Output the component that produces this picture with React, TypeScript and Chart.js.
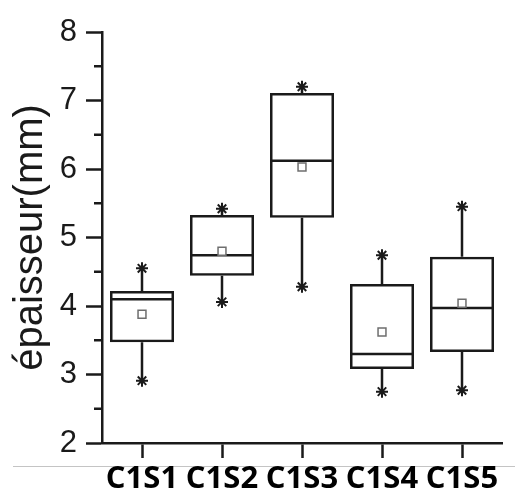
import React, { useEffect, useRef } from 'react';
import { Chart, registerables } from 'chart.js';

Chart.register(...registerables);

const categories = ['C1S1', 'C1S2', 'C1S3', 'C1S4', 'C1S5'];
const q1Values = [3.47, 4.44, 5.29, 3.08, 3.33];
const q3Values = [4.22, 5.33, 7.11, 4.32, 4.72];
const medianValues = [4.1, 4.74, 6.12, 3.3, 3.97];
const meanValues = [3.88, 4.8, 6.03, 3.62, 4.04];
const maxValues = [4.55, 5.42, 7.2, 4.74, 5.45];
const minValues = [2.91, 4.06, 4.28, 2.75, 2.77];
const minorTickValues = [2.5, 3.5, 4.5, 5.5, 6.5, 7.5];
const yTitle = 'épaisseur(mm)';

const INK = '#1a1a1a';
const LW = 2.5;

const boxExtras = {
  id: 'boxExtras',
  beforeDraw(chart: any) {
    const { ctx, chartArea } = chart;
    ctx.save();
    ctx.strokeStyle = '#c4c4c4';
    ctx.lineWidth = 1;
    const yy = Math.round(chartArea.bottom + 23) + 0.5;
    ctx.beginPath();
    ctx.moveTo(13, yy);
    ctx.lineTo(chart.width, yy);
    ctx.stroke();
    ctx.restore();
  },
  afterDatasetDraw(chart: any, args: any) {
    if (args.index !== 0) return;
    const { ctx } = chart;
    const meta = chart.getDatasetMeta(0);
    const y = chart.scales.y;
    ctx.save();
    ctx.strokeStyle = INK;
    ctx.lineWidth = LW;
    meta.data.forEach((bar: any, i: number) => {
      const x = bar.x;
      const half = bar.width / 2;
      const pm = y.getPixelForValue(medianValues[i]);
      ctx.beginPath();
      ctx.moveTo(x - half, pm);
      ctx.lineTo(x + half, pm);
      ctx.moveTo(x, y.getPixelForValue(q3Values[i]));
      ctx.lineTo(x, y.getPixelForValue(maxValues[i]));
      ctx.moveTo(x, y.getPixelForValue(q1Values[i]));
      ctx.lineTo(x, y.getPixelForValue(minValues[i]));
      ctx.stroke();
    });
    ctx.restore();
  },
  afterDraw(chart: any) {
    const { ctx, chartArea } = chart;
    const y = chart.scales.y;
    ctx.save();
    ctx.strokeStyle = INK;
    ctx.lineWidth = LW;
    ctx.beginPath();
    minorTickValues.forEach((v) => {
      const py = y.getPixelForValue(v);
      ctx.moveTo(chartArea.left - 8, py);
      ctx.lineTo(chartArea.left, py);
    });
    ctx.stroke();
    ctx.restore();
  },
};

export default function App() {
  const canvasRef = useRef<HTMLCanvasElement | null>(null);

  useEffect(() => {
    if (!canvasRef.current) return;
    const chart = new Chart(canvasRef.current, {
      type: 'bar',
      data: {
        labels: categories,
        datasets: [
          {
            type: 'bar',
            data: q1Values.map((q, i) => [q, q3Values[i]]) as any,
            backgroundColor: 'rgba(255,255,255,0)',
            borderColor: INK,
            borderWidth: LW,
            borderSkipped: false,
            barPercentage: 0.8,
            categoryPercentage: 1,
            order: 5,
          } as any,
          {
            type: 'line',
            data: meanValues,
            showLine: false,
            pointStyle: 'rect',
            pointRadius: 5.6,
            pointBackgroundColor: '#ffffff',
            pointBorderColor: '#6e6e6e',
            pointBorderWidth: 1.5,
            order: 1,
          } as any,
          {
            type: 'line',
            data: maxValues,
            showLine: false,
            pointStyle: 'star',
            pointRadius: 6,
            pointBorderColor: INK,
            pointBorderWidth: 2,
            order: 1,
          } as any,
          {
            type: 'line',
            data: minValues,
            showLine: false,
            pointStyle: 'star',
            pointRadius: 6,
            pointBorderColor: INK,
            pointBorderWidth: 2,
            order: 1,
          } as any,
        ],
      },
      options: {
        animation: false,
        responsive: true,
        maintainAspectRatio: false,
        layout: { padding: { left: 0, right: 13, top: 32, bottom: 0 } },
        plugins: {
          legend: { display: false },
          tooltip: { enabled: false },
        },
        scales: {
          x: {
            type: 'category',
            offset: true,
            grid: {
              offset: false,
              drawOnChartArea: false,
              drawTicks: true,
              tickLength: 15,
              tickWidth: LW,
              tickColor: INK,
            },
            border: { display: true, color: INK, width: LW },
            ticks: {
              autoSkip: false,
              maxRotation: 0,
              minRotation: 0,
              padding: 6,
              color: '#000',
              font: { family: '"Open Sans"', size: 31, weight: 'bold', lineHeight: 1 },
            },
            afterFit: (s: any) => {
              s.height = 52;
            },
          },
          y: {
            type: 'linear',
            min: 2,
            max: 8,
            ticks: {
              stepSize: 1,
              padding: 9,
              color: '#1a1a1a',
              font: { family: '"Liberation Sans"', size: 31 },
            },
            grid: {
              drawOnChartArea: false,
              drawTicks: true,
              tickLength: 16,
              tickWidth: LW,
              tickColor: INK,
            },
            border: { display: true, color: INK, width: LW },
            title: {
              display: true,
              text: yTitle,
              color: '#1a1a1a',
              padding: { top: 7, bottom: 0 },
              font: { family: '"Liberation Sans"', size: 40, lineHeight: 1.2 },
            },
            afterFit: (s: any) => {
              s.width = 102;
            },
          },
        },
      } as any,
      plugins: [boxExtras],
    });
    return () => chart.destroy();
  }, []);

  return (
    <div style={{ position: 'fixed', left: 0, top: 0, width: 515, height: 495, background: '#fff' }}>
      <canvas ref={canvasRef} />
    </div>
  );
}
